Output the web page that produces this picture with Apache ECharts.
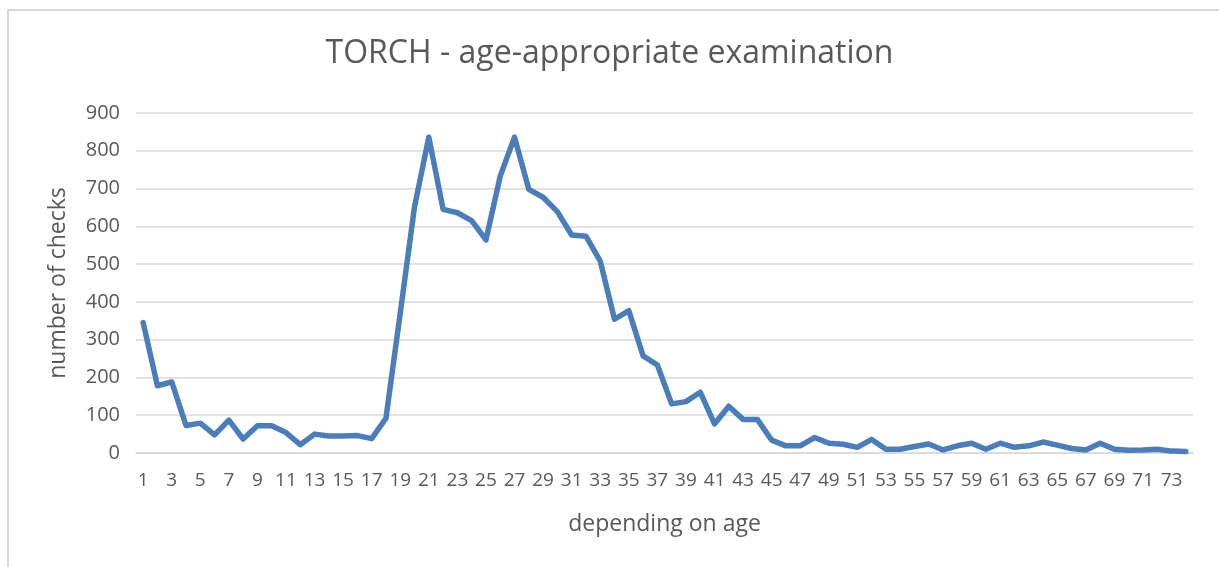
<!DOCTYPE html>
<html>
<head>
<meta charset="utf-8">
<script src="https://cdn.jsdelivr.net/npm/echarts@6/dist/echarts.min.js"></script>
<style>
  html, body { margin: 0; padding: 0; background: #fff; }
  #main { width: 1219px; height: 567px; }
</style>
</head>
<body>
<div id="main"></div>
<script>
// age categories (x axis)
var ages = [1, 2, 3, 4, 5, 6, 7, 8, 9, 10, 11, 12, 13, 14, 15, 16, 17, 18, 19, 20,
  21, 22, 23, 24, 25, 26, 27, 28, 29, 30, 31, 32, 33, 34, 35, 36, 37, 38, 39, 40,
  41, 42, 43, 44, 45, 46, 47, 48, 49, 50, 51, 52, 53, 54, 55, 56, 57, 58, 59, 60,
  61, 62, 63, 64, 65, 66, 67, 68, 69, 70, 71, 72, 73, 74];

// number of checks per age
var checks = [345, 178, 188, 73, 79, 48, 87, 37, 72, 72,
  54, 22, 50, 45, 45, 46, 38, 92, 370, 652,
  836, 645, 636, 615, 564, 733, 836, 698, 677, 639,
  577, 574, 508, 354, 377, 257, 233, 130, 136, 161,
  77, 124, 89, 89, 34, 19, 19, 41, 26, 23,
  15, 36, 10, 10, 17, 24, 8, 19, 26, 10,
  26, 15, 19, 29, 21, 12, 8, 26, 10, 7,
  8, 10, 5, 4];

var yTicks = [0, 100, 200, 300, 400, 500, 600, 700, 800, 900];

var textColor = "#595959";
var font = "Open Sans";

var myChart = echarts.init(document.getElementById("main"));

var option = {
  animation: false,
  backgroundColor: "#fff",
  graphic: [
    {
      type: "rect",
      shape: { x: 8, y: 10, width: 1400, height: 800 },
      style: { fill: null, stroke: "#d9d9d9", lineWidth: 2 }
    }
  ],
  title: {
    text: "TORCH - age-appropriate examination",
    left: "center",
    top: 33,
    textStyle: {
      color: textColor,
      fontFamily: font,
      fontSize: 32,
      fontWeight: "normal"
    }
  },
  grid: {
    left: 136,
    right: 26,
    top: 113,
    bottom: 114
  },
  xAxis: {
    type: "category",
    data: ages,
    boundaryGap: true,
    name: "depending on age",
    nameLocation: "middle",
    nameGap: 60,
    nameTextStyle: { color: textColor, fontFamily: font, fontSize: 23 },
    axisLine: { lineStyle: { color: "#d9d9d9", width: 1.5 } },
    axisTick: { show: false },
    axisLabel: {
      interval: 1,
      margin: 18,
      color: textColor,
      fontFamily: font,
      fontSize: 19
    }
  },
  yAxis: {
    type: "value",
    min: yTicks[0],
    max: yTicks[yTicks.length - 1],
    interval: 100,
    name: "number of checks",
    nameLocation: "middle",
    nameGap: 66,
    nameTextStyle: { color: textColor, fontFamily: font, fontSize: 23 },
    axisLine: { show: false },
    axisTick: { show: false },
    axisLabel: {
      margin: 16,
      color: textColor,
      fontFamily: font,
      fontSize: 20
    },
    splitLine: { lineStyle: { color: "#d9d9d9", width: 1.5 } }
  },
  series: [
    {
      name: "checks",
      type: "line",
      data: checks,
      symbol: "none",
      lineStyle: { color: "#4a7ebb", width: 5.5, join: "round", cap: "round" },
      itemStyle: { color: "#4a7ebb" }
    }
  ]
};

myChart.setOption(option);
</script>
</body>
</html>
